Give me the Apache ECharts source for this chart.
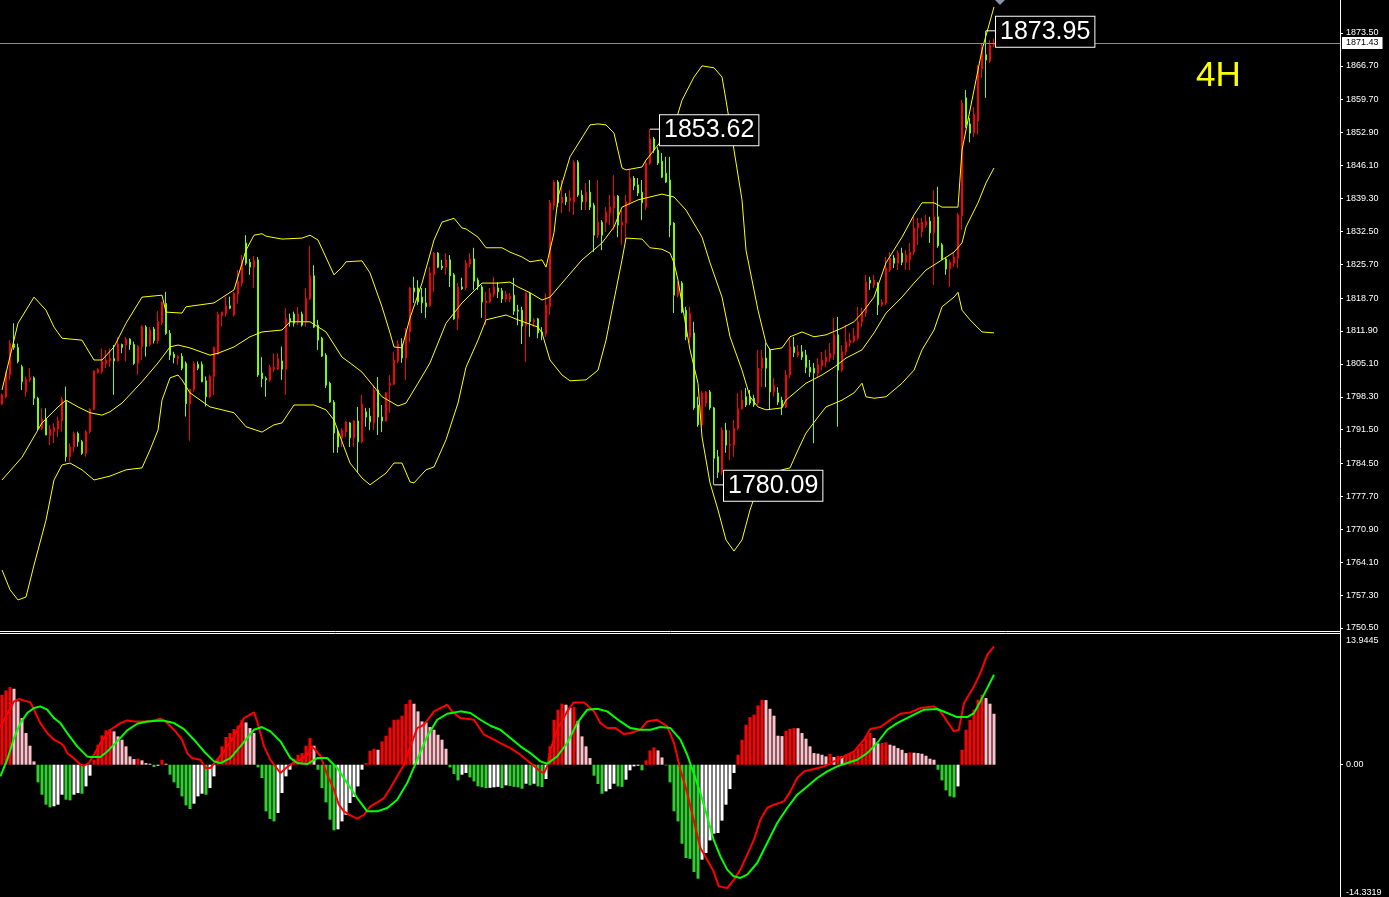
<!DOCTYPE html>
<html><head><meta charset="utf-8">
<script src="https://cdn.jsdelivr.net/npm/echarts@6/dist/echarts.min.js"></script>
<style>html,body{margin:0;padding:0;background:#000;}#chart{width:1389px;height:897px;}</style>
</head><body><div id="chart"></div>
<script>
// ---- data ----
const SLOTS = 335; // bar slots across the plot (249 used, rest is chart shift space)
const categories = Array.from({length: SLOTS}, (_, i) => 'B' + i);

// candles: [open, close, low, high]
const candles = [
[1796.8,1798.7,1796.6,1799.0],[1798.3,1803.1,1798.0,1803.5],[1802.8,1809.3,1801.8,1810.0],[1809.2,1808.5,1808.0,1813.5],[1808.5,1805.6,1805.2,1809.3],
[1804.5,1801.4,1799.7,1804.9],[1799.4,1801.9,1798.3,1802.5],[1801.8,1802.2,1801.4,1804.2],[1802.2,1798.0,1796.6,1802.5],[1798.0,1791.8,1791.4,1798.3],
[1791.8,1793.7,1791.4,1795.9],[1793.7,1790.4,1790.4,1795.9],[1790.3,1791.6,1788.3,1792.5],[1791.1,1791.9,1788.7,1792.8],[1791.6,1793.3,1790.0,1794.2],
[1793.3,1797.8,1791.1,1798.3],[1797.3,1785.9,1784.9,1800.4],[1785.9,1788.0,1784.9,1788.7],[1788.0,1790.7,1786.9,1791.1],[1790.7,1789.0,1788.0,1791.1],
[1789.0,1786.6,1786.3,1789.4],[1786.6,1791.1,1785.9,1791.4],[1791.1,1795.7,1790.7,1795.9],[1795.7,1803.6,1795.6,1803.8],[1803.3,1804.0,1803.1,1804.2],
[1803.5,1805.7,1803.1,1808.3],[1805.2,1805.9,1804.2,1808.0],[1805.7,1806.2,1804.5,1808.3],[1806.2,1805.7,1798.7,1809.0],[1805.7,1809.2,1805.6,1810.6],
[1809.1,1808.5,1807.3,1809.3],[1809.0,1810.2,1805.6,1810.7],[1810.2,1809.1,1808.0,1810.4],[1809.1,1805.2,1804.9,1809.7],[1805.2,1808.7,1802.8,1809.0],
[1808.7,1812.8,1805.9,1813.1],[1812.7,1808.7,1806.6,1813.1],[1809.1,1812.2,1808.7,1812.7],[1812.3,1809.9,1809.3,1812.7],[1809.9,1813.8,1809.3,1816.0],
[1813.6,1817.8,1813.1,1818.0],[1817.6,1811.4,1811.1,1820.0],[1811.4,1806.9,1805.9,1812.1],[1807.1,1806.4,1805.2,1807.6],[1806.2,1806.7,1804.9,1806.9],
[1806.7,1804.2,1803.8,1807.3],[1805.2,1796.9,1794.2,1805.6],[1796.9,1799.8,1789.2,1800.0],[1799.8,1805.2,1799.4,1805.6],[1805.0,1804.2,1803.8,1805.6],
[1805.0,1801.4,1801.3,1805.6],[1801.6,1798.3,1796.3,1802.5],[1798.3,1802.5,1798.0,1802.8],[1802.5,1808.5,1798.7,1808.7],[1807.1,1815.3,1806.9,1815.9],
[1815.1,1815.8,1812.8,1815.9],[1815.5,1817.1,1814.9,1819.0],[1817.1,1816.6,1816.4,1819.0],[1815.2,1819.7,1814.9,1820.0],[1819.5,1822.1,1817.6,1824.5],
[1821.8,1826.6,1821.1,1827.6],[1830.1,1825.9,1825.5,1831.7],[1826.1,1825.1,1823.5,1826.8],[1825.1,1826.4,1820.8,1827.4],[1826.6,1802.8,1802.4,1827.2],
[1803.2,1802.0,1800.3,1806.5],[1802.1,1801.8,1798.3,1802.5],[1801.8,1804.4,1801.4,1804.9],[1804.0,1804.4,1803.5,1807.3],[1804.0,1806.2,1803.8,1807.3],
[1805.7,1804.0,1801.8,1808.7],[1804.0,1814.5,1798.7,1816.6],[1814.5,1813.8,1812.8,1815.5],[1815.4,1813.5,1812.8,1815.9],[1813.8,1815.4,1813.1,1816.9],
[1815.4,1813.1,1812.8,1815.9],[1813.8,1818.6,1812.8,1820.7],[1818.5,1823.3,1818.3,1829.5],[1823.3,1812.7,1812.5,1825.5],[1813.1,1810.0,1808.0,1814.2],
[1810.4,1806.7,1806.5,1810.7],[1806.9,1800.7,1800.1,1807.3],[1801.1,1797.2,1797.0,1801.4],[1797.2,1790.8,1786.7,1797.6],[1791.0,1787.9,1786.7,1791.4],
[1789.8,1791.4,1787.9,1791.8],[1791.0,1793.1,1790.0,1793.3],[1792.9,1789.8,1787.9,1793.1],[1789.8,1793.3,1787.9,1793.5],[1793.3,1789.0,1782.7,1796.2],
[1789.0,1796.8,1788.7,1798.7],[1795.2,1794.1,1792.1,1796.0],[1794.3,1793.1,1791.4,1796.0],[1792.9,1799.7,1791.4,1800.7],[1799.7,1794.1,1790.4,1802.4],
[1794.1,1793.3,1791.0,1796.6],[1793.3,1799.1,1793.1,1799.3],[1800.7,1801.1,1795.0,1802.8],[1800.9,1805.9,1800.7,1807.6],[1805.7,1809.2,1805.3,1810.0],
[1809.2,1806.3,1805.3,1810.4],[1806.3,1812.1,1801.8,1812.5],[1811.7,1820.8,1809.6,1821.0],[1820.8,1820.0,1817.7,1823.1],[1820.8,1817.9,1817.3,1822.4],
[1818.9,1817.7,1815.6,1820.8],[1817.7,1816.9,1814.6,1820.8],[1817.1,1823.9,1816.9,1825.1],[1823.5,1828.0,1820.0,1828.2],[1828.0,1825.1,1824.9,1828.2],
[1825.3,1824.9,1824.5,1826.6],[1825.1,1826.6,1823.5,1828.0],[1826.6,1823.3,1821.0,1827.6],[1823.5,1814.4,1814.2,1823.9],[1814.4,1821.0,1812.1,1821.8],
[1821.0,1820.6,1820.4,1822.9],[1820.8,1825.9,1820.4,1826.6],[1825.7,1826.8,1825.1,1828.0],[1826.8,1822.2,1820.4,1829.1],[1822.4,1821.0,1820.4,1822.9],
[1821.0,1817.9,1814.6,1821.4],[1817.7,1818.1,1813.1,1820.0],[1817.9,1819.7,1817.7,1820.8],[1819.5,1821.0,1818.9,1823.1],[1820.8,1820.0,1818.7,1822.0],
[1820.2,1818.5,1817.7,1820.8],[1818.5,1819.5,1817.9,1820.2],[1818.5,1819.1,1817.9,1819.7],[1819.3,1816.0,1815.2,1822.9],[1816.2,1816.0,1813.1,1817.3],
[1816.2,1812.9,1809.2,1816.9],[1813.1,1819.7,1805.5,1820.0],[1819.7,1813.8,1810.7,1820.0],[1813.8,1814.2,1812.7,1814.6],[1814.4,1811.5,1810.4,1814.6],
[1811.7,1811.3,1810.0,1812.7],[1811.3,1817.3,1810.7,1819.7],[1816.9,1838.4,1815.2,1839.0],[1837.9,1842.7,1836.9,1843.1],[1842.7,1838.4,1837.5,1843.1],
[1838.4,1839.6,1836.3,1843.1],[1839.6,1838.6,1837.9,1840.4],[1838.8,1839.4,1836.5,1841.0],[1838.6,1846.8,1835.9,1847.2],[1846.8,1840.0,1839.6,1847.2],
[1840.0,1838.6,1836.9,1841.0],[1838.6,1840.6,1836.9,1842.5],[1840.6,1837.5,1836.9,1843.1],[1837.9,1831.7,1828.2,1838.4],[1831.7,1834.4,1831.1,1843.1],
[1834.4,1831.7,1828.6,1834.8],[1834.4,1836.5,1832.4,1837.5],[1836.3,1837.5,1833.8,1840.0],[1837.3,1839.8,1832.8,1844.1],[1839.8,1833.8,1831.3,1840.0],
[1833.8,1834.4,1829.7,1836.9],[1834.2,1838.6,1830.1,1840.0],[1838.6,1843.5,1837.9,1845.2],[1843.5,1841.9,1841.0,1843.9],[1842.1,1840.4,1839.8,1843.5],
[1840.6,1838.4,1834.8,1843.1],[1837.5,1846.6,1836.9,1847.2],[1846.6,1851.6,1846.2,1853.62],[1851.6,1849.3,1848.7,1852.0],[1849.3,1846.6,1846.2,1849.9],
[1847.0,1843.7,1843.5,1848.7],[1844.5,1842.7,1842.5,1847.9],[1843.1,1833.8,1831.3,1847.9],[1834.2,1819.3,1815.6,1834.4],[1819.3,1821.8,1818.9,1822.2],
[1821.8,1815.8,1815.6,1822.2],[1816.2,1810.7,1810.0,1816.9],[1810.7,1815.6,1809.4,1816.9],[1811.5,1796.0,1795.6,1813.8],[1796.6,1792.5,1792.1,1798.3],
[1792.5,1799.1,1792.1,1799.5],[1797.0,1799.3,1796.2,1799.5],[1799.3,1796.0,1795.6,1799.7],[1796.0,1785.6,1780.09,1796.2],[1785.9,1782.7,1781.5,1787.3],
[1782.7,1791.4,1782.1,1792.0],[1791.4,1788.3,1786.7,1792.9],[1788.3,1788.5,1785.2,1791.4],[1788.3,1791.8,1785.9,1793.5],[1791.8,1795.8,1791.4,1799.1],
[1795.8,1797.6,1795.6,1799.7],[1798.3,1796.6,1796.2,1800.1],[1798.3,1797.0,1796.6,1799.7],[1798.0,1796.6,1796.2,1798.7],[1797.0,1804.2,1796.6,1808.0],
[1804.2,1806.3,1800.3,1808.0],[1806.3,1804.2,1800.3,1809.4],[1808.0,1799.3,1795.6,1808.4],[1799.3,1800.7,1798.3,1802.2],[1799.1,1797.2,1796.6,1800.3],
[1797.6,1796.2,1794.5,1798.3],[1796.2,1802.8,1796.0,1803.8],[1802.8,1808.6,1802.2,1810.7],[1808.6,1807.4,1806.5,1810.7],[1806.9,1807.6,1806.5,1809.0],
[1807.6,1806.5,1805.9,1809.0],[1806.9,1804.4,1803.2,1808.0],[1804.4,1803.4,1802.4,1805.9],[1804.2,1803.2,1788.7,1805.3],[1803.2,1804.9,1802.2,1806.3],
[1804.7,1805.9,1803.8,1807.6],[1805.5,1806.5,1804.4,1808.0],[1806.3,1807.3,1805.5,1809.4],[1807.1,1811.1,1805.9,1814.6],[1811.1,1803.8,1792.1,1814.8],
[1803.8,1807.6,1803.4,1809.0],[1807.6,1809.6,1806.9,1813.1],[1809.4,1810.0,1808.6,1811.5],[1809.8,1810.9,1809.4,1812.5],[1810.4,1813.8,1810.0,1816.9],
[1813.8,1815.8,1812.7,1816.7],[1815.6,1822.0,1814.8,1823.5],[1822.4,1821.8,1820.4,1823.1],[1821.4,1822.4,1820.8,1823.5],[1821.8,1817.3,1815.2,1822.0],
[1817.3,1817.9,1816.9,1818.5],[1817.7,1824.9,1817.3,1827.2],[1824.5,1827.0,1824.1,1828.2],[1827.0,1825.9,1824.9,1827.6],[1825.9,1828.0,1824.5,1828.6],
[1828.0,1826.1,1825.5,1829.1],[1826.1,1827.6,1824.5,1828.6],[1826.6,1828.2,1824.5,1830.1],[1828.2,1833.2,1827.6,1835.5],[1833.2,1834.2,1829.7,1835.3],
[1832.4,1834.4,1831.3,1835.3],[1833.8,1834.6,1833.2,1835.9],[1834.6,1832.2,1830.1,1835.5],[1832.2,1835.5,1821.4,1841.0],[1835.5,1829.5,1829.1,1841.7],
[1829.7,1826.8,1826.6,1830.1],[1826.8,1824.7,1823.5,1827.2],[1824.7,1826.1,1821.0,1826.6],[1825.9,1827.2,1825.1,1828.2],[1827.0,1835.9,1824.9,1836.3],
[1835.7,1859.0,1832.8,1859.7],[1860.1,1854.5,1853.9,1861.7],[1854.7,1852.8,1850.9,1855.9],[1852.8,1856.6,1852.0,1858.2],[1855.3,1866.3,1852.4,1866.9],
[1866.1,1870.6,1864.2,1871.4],[1869.0,1867.9,1860.1,1873.95],[1867.7,1871.0,1867.3,1872.0],[1871.0,1871.43,1870.6,1872.3]
];

// Bollinger bands, read at sampled bar positions: [bar index, price]
const bbUpper = [[0,1799.7],[4,1813.5],[8,1818.9],[11,1816.2],[13,1812.7],[15,1810.4],[20,1810.0],[21,1808.6],[23,1805.9],[25,1805.9],[28,1808.6],[31,1813.5],[35,1818.9],[40,1819.3],[41,1815.8],[45,1815.6],[46,1816.9],[53,1817.7],[58,1820.4],[61,1828.6],[63,1831.7],[65,1832.0],[66,1831.5],[70,1830.9],[75,1831.1],[77,1831.7],[79,1830.7],[83,1823.5],[85,1825.1],[86,1826.2],[90,1826.4],[92,1823.9],[95,1816.9],[97,1811.5],[98,1808.6],[100,1808.4],[102,1814.6],[105,1821.8],[108,1830.7],[110,1834.4],[113,1835.2],[115,1833.2],[116,1833.0],[119,1831.3],[121,1829.1],[125,1829.1],[127,1828.2],[130,1827.2],[132,1826.2],[135,1826.6],[136,1825.1],[138,1832.2],[139,1839.6],[142,1847.9],[147,1854.5],[149,1854.7],[151,1854.5],[153,1852.8],[155,1845.6],[156,1845.2],[160,1845.8],[161,1847.2],[165,1851.4],[168,1854.1],[170,1859.6],[173,1864.4],[175,1866.7],[178,1866.3],[180,1864.4],[181,1859.6],[183,1849.3],[185,1839.0],[186,1828.6],[189,1816.2],[191,1809.4],[192,1808.0],[195,1808.4],[197,1810.7],[200,1811.7],[203,1810.7],[206,1811.1],[210,1812.5],[213,1813.8],[215,1815.6],[218,1818.9],[221,1826.0],[225,1831.3],[228,1835.9],[230,1838.4],[233,1838.4],[235,1837.5],[239,1837.5],[240,1849.3],[243,1861.7],[245,1870.0],[248,1878.9]];
const bbMiddle = [[0,1781.1],[5,1785.8],[10,1792.9],[14,1796.2],[16,1797.6],[19,1796.2],[22,1795.0],[25,1794.5],[27,1795.2],[30,1797.0],[35,1801.4],[39,1805.3],[42,1808.6],[44,1809.0],[47,1808.4],[52,1806.9],[54,1807.3],[58,1808.6],[62,1810.7],[65,1811.7],[70,1812.1],[72,1813.8],[77,1813.8],[81,1811.7],[85,1806.5],[87,1805.3],[90,1803.4],[95,1798.3],[99,1796.4],[101,1797.0],[104,1801.1],[107,1805.3],[111,1813.5],[115,1817.7],[119,1821.0],[120,1821.8],[124,1821.8],[127,1822.0],[129,1821.0],[132,1819.8],[135,1818.3],[137,1818.9],[140,1821.8],[145,1826.6],[150,1830.1],[153,1833.4],[155,1837.5],[159,1839.0],[162,1839.6],[165,1840.2],[168,1839.6],[171,1836.9],[175,1831.3],[177,1826.0],[180,1818.9],[182,1810.7],[185,1803.8],[187,1798.3],[189,1796.2],[191,1795.6],[195,1796.0],[196,1797.6],[199,1799.7],[201,1801.1],[205,1802.8],[208,1804.4],[211,1806.3],[215,1808.0],[218,1811.5],[221,1815.6],[225,1818.9],[228,1821.8],[231,1824.5],[235,1826.6],[238,1828.2],[240,1830.1],[241,1833.4],[244,1838.4],[246,1842.5],[248,1845.6]];
const bbLower = [[0,1762.5],[2,1758.4],[4,1756.3],[6,1756.9],[8,1763.5],[11,1772.8],[13,1781.1],[15,1784.2],[17,1784.6],[20,1783.2],[23,1781.1],[27,1781.9],[31,1783.2],[35,1783.6],[37,1787.3],[39,1791.4],[40,1797.6],[42,1802.2],[44,1802.8],[45,1801.8],[47,1799.1],[52,1796.2],[58,1795.0],[61,1792.1],[65,1791.0],[68,1792.5],[70,1792.9],[73,1796.6],[78,1796.6],[81,1795.6],[83,1793.5],[87,1784.6],[90,1781.5],[92,1780.1],[96,1782.5],[98,1784.6],[100,1784.6],[102,1780.7],[103,1780.5],[106,1783.2],[108,1783.8],[111,1789.4],[114,1797.0],[116,1804.4],[119,1810.0],[121,1814.2],[126,1815.2],[129,1814.2],[134,1812.7],[135,1811.5],[137,1805.9],[140,1802.8],[142,1801.6],[146,1801.8],[149,1803.8],[151,1810.0],[153,1818.3],[155,1826.6],[156,1831.1],[160,1830.9],[162,1829.1],[165,1828.8],[167,1828.0],[168,1826.0],[169,1822.4],[172,1808.0],[174,1801.1],[175,1790.0],[177,1780.5],[179,1774.9],[181,1768.7],[183,1766.4],[185,1768.7],[187,1774.9],[189,1779.7],[191,1781.7],[195,1783.2],[197,1783.6],[199,1787.3],[201,1790.8],[204,1794.1],[206,1796.2],[210,1797.6],[213,1799.1],[215,1801.1],[216,1798.3],[218,1798.0],[221,1798.3],[225,1801.1],[228,1803.8],[230,1808.0],[233,1812.1],[235,1816.9],[238,1818.9],[239,1819.9],[240,1816.2],[242,1814.2],[245,1811.7],[248,1811.5]];

// MACD histogram, one value per bar
const macdHist = [7.58,8.05,8.41,8.23,6.86,5.05,3.43,2.06,0.36,
-1.91,-3.25,-4.33,-4.62,-4.50,-4.33,-3.25,-3.79,-3.86,-3.25,-3.07,-3.14,-2.35,-1.19,
0.54,2.17,3.18,3.72,3.86,3.61,3.07,2.71,1.99,0.90,0.61,0.65,0.47,0.18,0.11,
-0.25,-0.11,0.54,0.11,
-1.08,-1.91,-2.53,-3.43,-4.40,-4.80,-4.22,-3.43,-3.14,-3.25,-2.53,-1.26,
0.61,1.99,3.00,3.43,3.86,4.22,4.87,4.58,3.97,3.43,
-0.29,-1.44,-5.05,-5.88,-6.14,-5.23,-3.07,-1.26,-0.54,
0.65,1.08,1.26,2.06,2.89,2.06,
-0.54,-2.53,-4.08,-5.96,-7.11,-7.00,-6.14,-5.42,-4.15,-3.50,-2.35,-0.54,
0.18,1.52,1.73,1.62,2.53,3.14,4.04,4.87,4.90,5.31,6.57,7.04,6.61,5.78,4.69,4.58,4.08,3.79,3.25,2.71,1.73,
-0.29,-1.01,-1.70,-1.08,-0.90,-1.37,-1.81,-2.35,-2.45,-2.53,-2.50,-2.45,-2.40,
-2.53,-2.24,-2.30,-2.40,-2.45,-2.60,-2.06,-2.24,-2.06,-2.35,-2.42,-1.55,
2.00,4.87,5.96,6.61,6.50,6.17,6.24,4.76,3.07,1.99,0.72,
-1.19,-2.09,-3.14,-2.89,-2.64,-2.06,-2.35,-2.40,-1.62,-0.61,-0.18,-0.11,-0.61,
0.47,1.55,1.88,1.55,0.79,
-0.07,-1.91,-5.05,-6.14,-8.56,-10.11,-10.20,-11.63,-12.35,-10.29,-9.57,-8.20,-7.47,-7.40,-6.06,-4.33,-2.64,-0.90,
1.08,2.71,4.33,5.16,5.42,6.43,7.04,7.00,6.06,5.31,3.14,3.10,3.68,3.90,3.97,3.95,3.43,2.82,1.99,1.26,
1.20,1.08,0.90,1.19,0.83,0.97,0.90,1.08,1.16,1.34,1.80,2.27,3.07,3.43,2.89,2.31,2.35,2.42,2.17,2.06,
1.80,1.62,1.26,1.34,1.30,1.26,1.19,0.97,0.65,0.54,
-0.54,-1.70,-2.78,-3.43,-3.54,-2.35,
1.62,3.79,4.87,5.96,7.04,7.58,7.22,6.61,5.52];

// MACD lines, read at sampled bar positions: [bar index, value]
const macdRed = [[-0.4,4.15],[3,6.86],[4.2,7.11],[6.3,6.86],[7.1,6.75],[8,5.96],[9.6,4.51],[11.3,3.43],[13,2.71],[14.6,2.35],[15.5,1.99],[16.3,1.26],[17.9,0.72],[19.6,0],[20.5,-0.11],[21.7,0.18],[23,1.08],[24.6,2.35],[27.1,3.79],[29.6,4.51],[31.3,4.80],[33,4.69],[34.6,4.69],[37.1,4.69],[39.6,4.98],[40.9,4.69],[43,3.79],[45,2.71],[46.3,1.26],[47.5,0.72],[49.6,0.54],[50.9,-0.36],[52.1,-0.36],[53.4,0.36],[55.5,1.44],[58,3.07],[60.5,5.05],[63,5.67],[63.8,4.69],[65.5,1.99],[67.1,0.54],[69.6,-0.90],[71.3,-0.25],[73,0.25],[74.6,0.54],[76.3,1.08],[77.5,1.99],[79.6,0.97],[81.3,-1.08],[83,-2.71],[84.2,-4.33],[85.5,-5.05],[87.1,-5.49],[88.8,-5.85],[90.5,-5.42],[92.1,-4.51],[93.8,-4.08],[95.5,-3.61],[97.1,-2.53],[98.8,-1.26],[100.5,0],[102.1,1.99],[103.8,3.97],[105.5,4.33],[108,5.78],[111.3,6.50],[112.5,5.78],[114.6,5.05],[118,4.87],[120.5,3.25],[123,2.71],[124.6,2.35],[127.1,1.80],[129.6,1.08],[132.1,0.18],[134.6,-0.72],[135.5,-0.90],[136.3,-0.18],[137.1,1.62],[138.8,3.79],[141.3,5.78],[142.9,6.75],[145.5,6.75],[148,5.78],[149.6,4.51],[151.3,3.97],[153.4,3.97],[155.5,3.32],[157.1,3.43],[159.6,3.79],[161.3,4.69],[163.8,4.87],[166.3,4.15],[168,2.35],[169.6,-0.54],[171.3,-3.07],[172.9,-5.96],[174.6,-9.03],[176.3,-10.29],[177.9,-11.55],[179.2,-13.18],[181.3,-13.36],[183,-12.45],[184.6,-11.37],[186.3,-9.75],[188,-8.12],[189.6,-5.96],[191.3,-4.69],[193,-4.33],[195.5,-3.97],[197.1,-2.89],[198.8,-1.44],[200.5,-0.72],[203,-0.47],[205.5,-0.18],[208,0.36],[210.5,0.90],[213,1.44],[215.5,2.71],[217.1,3.86],[219.6,4.08],[222.1,4.87],[224.6,5.52],[227.1,5.67],[229.6,6.14],[233,6.32],[234.6,5.78],[236.3,4.69],[238,3.61],[239.2,3.79],[240.5,6.68],[243,8.48],[244.6,9.93],[246.3,11.91],[248,12.82]];
const macdGreen = [[-0.4,-1.26],[1.3,0.54],[3,2.89],[4.6,4.51],[6.3,5.60],[8,6.14],[9.6,6.32],[11.3,5.96],[13,5.05],[14.6,4.51],[16.3,3.43],[18.8,1.99],[21.3,0.90],[22.1,0.83],[24.6,0.83],[26.3,1.44],[28.8,2.53],[31.3,3.72],[33.8,4.44],[36.3,4.69],[38.8,4.77],[40.5,4.77],[43,4.51],[45.5,3.86],[48,2.71],[50.5,1.44],[53,0.36],[54.6,0.18],[57.1,0.72],[59.6,1.99],[63,3.79],[65,4.08],[67.1,3.61],[69.6,2.53],[72.1,0.72],[73.8,0.18],[76.3,0.07],[78.8,0.72],[81.3,0.72],[83.8,-0.36],[86.3,-1.99],[88.8,-3.61],[91.3,-5.05],[93.8,-5.05],[96.3,-4.69],[98.8,-3.79],[101.3,-1.99],[103.8,0.54],[106.3,3.07],[108.8,4.87],[111.3,5.52],[114.6,5.78],[117.1,5.60],[119.6,4.87],[122.1,4.22],[124.6,3.79],[127.1,2.89],[129.6,1.99],[132.1,1.26],[134.6,0.36],[136.3,0.11],[138.8,0.90],[141.3,2.35],[143.8,4.51],[146.3,5.96],[148.8,6.06],[151.3,5.78],[154.6,4.69],[157.1,3.97],[159.6,3.79],[162.1,3.79],[164.6,4.08],[167.1,3.97],[169.6,2.71],[171.3,1.08],[172.9,-0.90],[174.6,-3.07],[176.3,-5.60],[177.9,-8.12],[179.6,-9.93],[181.3,-11.37],[182.9,-12.09],[184.6,-12.27],[186.3,-11.91],[188.8,-10.65],[191.3,-8.48],[193.8,-6.32],[196.3,-4.69],[198.8,-3.25],[201.3,-2.35],[203.8,-1.44],[206.3,-0.72],[208.8,-0.18],[211.3,0.18],[213.8,0.54],[216.3,1.26],[218.8,2.35],[221.3,3.79],[223.8,4.51],[227.1,5.23],[230.5,5.96],[233.8,6.03],[236.3,5.60],[238.8,5.16],[241.3,5.16],[243,5.60],[244.6,6.86],[246.3,8.30],[248,9.75]];

// axis tick labels
const priceTicks = [1750.50,1757.30,1764.10,1770.90,1777.70,1784.50,1791.50,1798.30,1805.10,1811.90,1818.70,1825.70,1832.50,1839.30,1846.10,1852.90,1859.70,1866.70,1873.50];
const macdTicks = [-14.3319, 0, 13.9445];
const priceMin = 1749.88, priceMax = 1880.32;
const macdMin = -14.3319, macdMax = 13.9445;
const lastPrice = 1871.43;
const annIndex = [162, 178, 246];
const annPrice = [1853.62, 1780.09, 1873.95];
const timeframeLabel = '4H';

// ---- chart ----
const FONT = 'Liberation Sans, Arial, sans-serif';
const histData = macdHist.map((v, i) => {
  const prev = i > 0 ? macdHist[i - 1] : (v >= 0 ? -Infinity : Infinity);
  let c;
  if (v >= 0) c = v >= prev ? '#FF0000' : '#FFC0CB';
  else c = v <= prev ? '#32CD32' : '#FFFFFF';
  return { value: v, itemStyle: { color: c } };
});

const chart = echarts.init(document.getElementById('chart'), null, { renderer: 'canvas' });
const bandLine = (name, data) => ({
  name, type: 'line', xAxisIndex: 2, yAxisIndex: 0, data, symbol: 'none', z: 3,
  lineStyle: { color: '#FFFF00', width: 1 }, silent: true
});
chart.setOption({
  animation: false,
  backgroundColor: '#000000',
  grid: [
    { left: 0, right: 49, top: 0, height: 631 },
    { left: 0, right: 49, top: 636, height: 261 }
  ],
  xAxis: [
    { type: 'category', gridIndex: 0, data: categories, show: false },
    { type: 'category', gridIndex: 1, data: categories, show: false },
    { type: 'value', gridIndex: 0, min: -0.5, max: SLOTS - 0.5, show: false },
    { type: 'value', gridIndex: 1, min: -0.5, max: SLOTS - 0.5, show: false }
  ],
  yAxis: [
    { type: 'value', gridIndex: 0, position: 'right', min: priceMin, max: priceMax,
      axisLine: { show: false, onZero: false }, splitLine: { show: false },
      axisTick: { show: true, length: 3, customValues: priceTicks, lineStyle: { color: '#ffffff' } },
      axisLabel: { show: true, customValues: priceTicks, formatter: v => v.toFixed(2), color: '#ffffff', fontSize: 9, fontFamily: FONT, margin: 6 } },
    { type: 'value', gridIndex: 1, position: 'right', min: macdMin, max: macdMax,
      axisLine: { show: false, onZero: false }, splitLine: { show: false },
      axisTick: { show: true, length: 3, customValues: [0], lineStyle: { color: '#ffffff' } },
      axisLabel: { show: true, customValues: macdTicks, showMinLabel: true, showMaxLabel: true,
        verticalAlignMinLabel: 'bottom', verticalAlignMaxLabel: 'top',
        formatter: v => (v === 0 ? '0.00' : v.toFixed(4)), color: '#ffffff', fontSize: 9, fontFamily: FONT, margin: 6 } }
  ],
  series: [
    { type: 'candlestick', xAxisIndex: 0, yAxisIndex: 0, data: candles, barWidth: 2, z: 2,
      itemStyle: { color: '#FF0000', color0: '#7CFC00', borderColor: '#FF0000', borderColor0: '#7CFC00', borderWidth: 1 },
      markLine: { silent: true, symbol: ['none', 'none'], data: [{ yAxis: lastPrice }],
        lineStyle: { color: '#8c8c8c', width: 1, type: 'solid' },
        label: { show: true, position: 'end', distance: 2, formatter: p => Number(p.value).toFixed(2),
          color: '#000', backgroundColor: '#fff', fontSize: 9, fontFamily: FONT, padding: [2, 4, 1, 4] } },
      markPoint: { silent: true, symbol: 'rect', symbolSize: [10, 1], symbolOffset: [5, 0],
        itemStyle: { color: '#ffffff' },
        data: annIndex.map((ix, k) => ({ coord: [ix, annPrice[k]], value: annPrice[k] })),
        label: { show: true, position: 'right', distance: 0, offset: [0, 1], formatter: p => Number(p.value).toFixed(2),
          color: '#ffffff', fontSize: 25, fontFamily: FONT, backgroundColor: '#000', borderColor: '#ffffff', borderWidth: 1,
          padding: [3, 4, 0, 4], lineHeight: 27 } } },
    bandLine('upper', bbUpper),
    bandLine('middle', bbMiddle),
    bandLine('lower', bbLower),
    { type: 'bar', xAxisIndex: 1, yAxisIndex: 1, data: histData, barWidth: 3, z: 2, silent: true },
    { type: 'line', xAxisIndex: 3, yAxisIndex: 1, data: macdRed, symbol: 'none', z: 4, silent: true,
      lineStyle: { color: '#FF0000', width: 2 } },
    { type: 'line', xAxisIndex: 3, yAxisIndex: 1, data: macdGreen, symbol: 'none', z: 4, silent: true,
      lineStyle: { color: '#00FF00', width: 2 } }
  ],
  graphic: [
    { type: 'line', silent: true, z: 100, shape: { x1: 1340.5, y1: 0, x2: 1340.5, y2: 897 }, style: { stroke: '#ffffff', lineWidth: 1 } },
    { type: 'line', silent: true, z: 100, shape: { x1: 0, y1: 631.5, x2: 1341, y2: 631.5 }, style: { stroke: '#ffffff', lineWidth: 1 } },
    { type: 'line', silent: true, z: 100, shape: { x1: 0, y1: 633.5, x2: 1341, y2: 633.5 }, style: { stroke: '#ffffff', lineWidth: 1 } },
    { type: 'polygon', silent: true, z: 100, shape: { points: [[995, 0], [1005, 0], [1000, 5]] }, style: { fill: '#8a94a6' } },
    { type: 'text', silent: true, z: 100, x: 1196, y: 76, style: { text: timeframeLabel, fill: '#FFFF00', font: '35px ' + FONT, verticalAlign: 'middle' } }
  ]
});
</script></body></html>
